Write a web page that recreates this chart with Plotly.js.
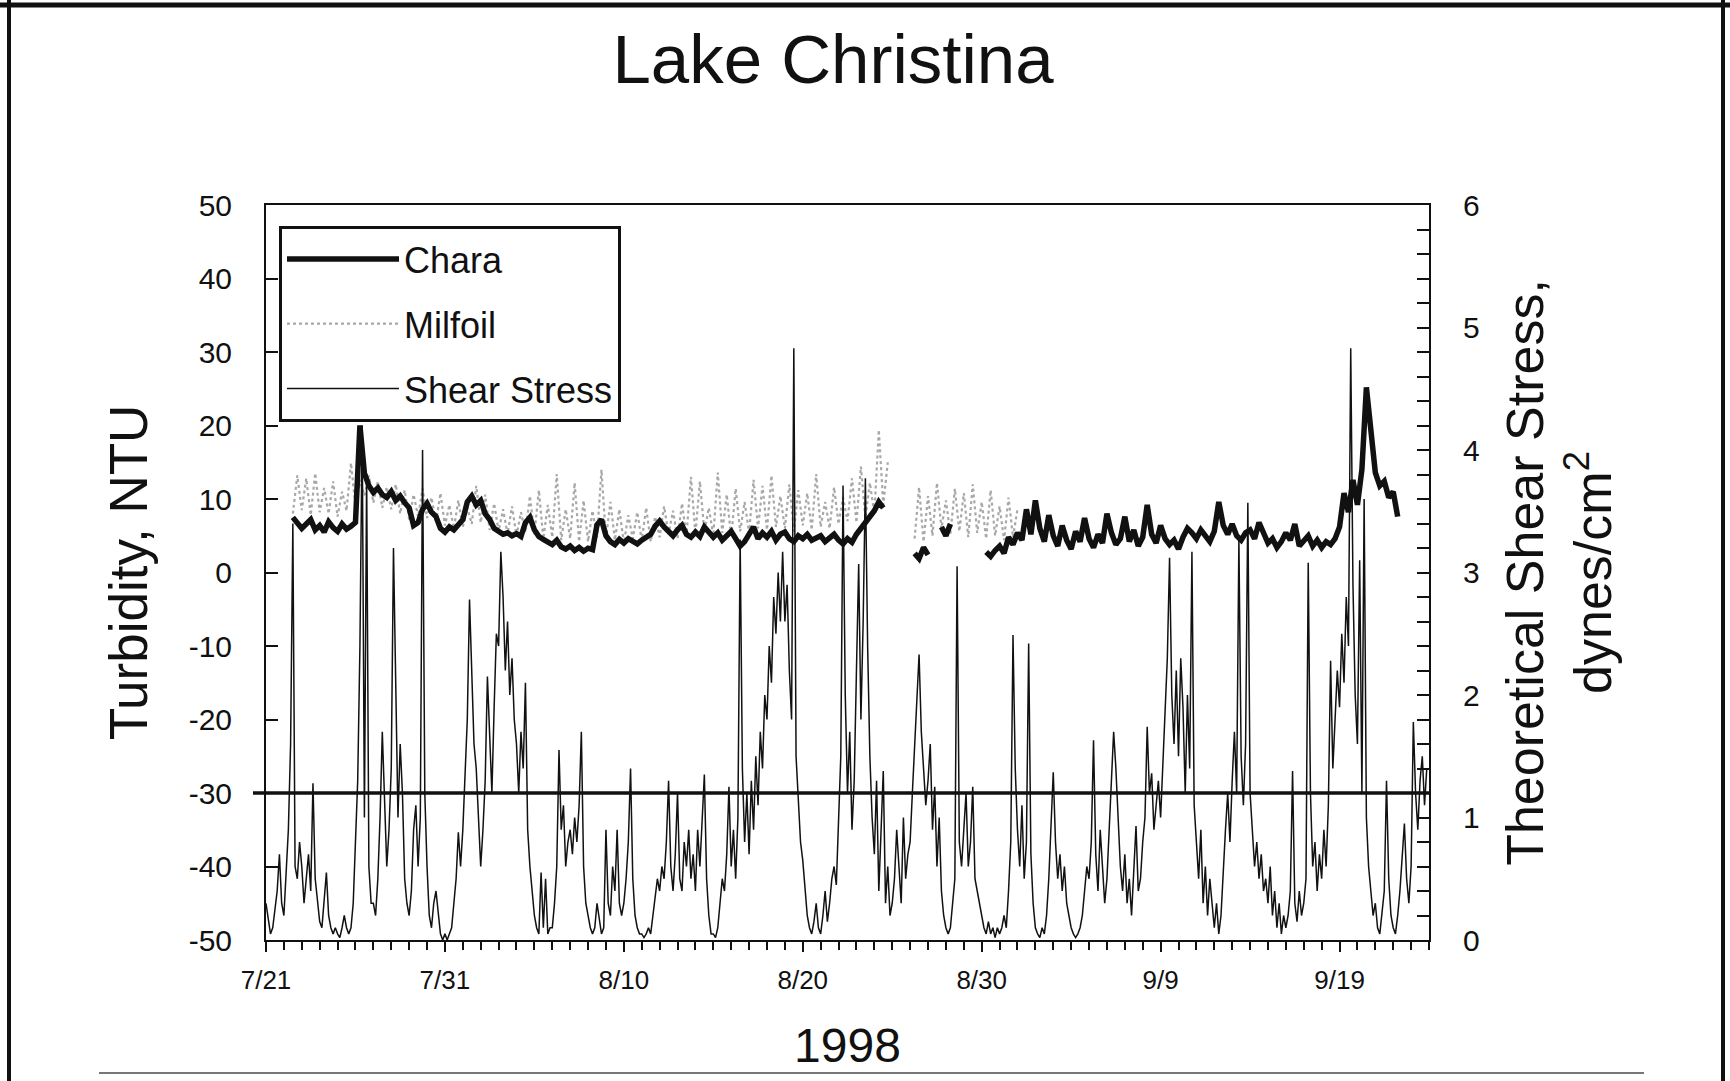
<!DOCTYPE html>
<html><head><meta charset="utf-8">
<script src="https://cdn.plot.ly/plotly-3.0.1.min.js"></script>
<style>html,body{margin:0;padding:0;background:#fff;} #chart{width:1730px;height:1081px;}</style>
</head><body><div id="chart"></div>
<script>
// ---- data ----
const seriesStart = [1998, 6, 21];          // 21 July 1998, 00:00
const shearStepHours = 3;
const turbidityStepHours = 6;
const xRange = ['1998-07-21', '1998-09-24'];
const thresholdNTU = -30;
const turbidityTicks = [-50, -40, -30, -20, -10, 0, 10, 20, 30, 40, 50];
const turbidityTickLabels = ['-50', '-40', '-30', '-20', '-10', '0', '10', '20', '30', '40', '50'];

// Theoretical shear stress, dynes/cm2, one value per 3 h (8 per day)
const shearStress = [
 0.3,0.15,0.05,0.1,0.25,0.4,0.7,0.3,
 0.2,0.5,0.9,1.6,3.4,0.6,0.5,0.8,
 0.6,0.3,0.5,0.7,0.4,1.28,0.5,0.3,
 0.15,0.1,0.34,0.55,0.2,0.1,0.05,0.1,
 0.05,0.02,0.1,0.2,0.1,0.05,0.1,0.3,
 0.8,1.3,2.4,4.2,1.0,3.8,0.6,0.3,
 0.3,0.2,0.5,1.0,1.7,1.2,0.6,0.9,
 1.4,3.2,2.0,1.0,1.6,1.2,0.5,0.3,
 0.2,0.4,0.9,1.1,0.6,1.0,4.0,1.2,
 0.6,0.2,0.1,0.3,0.4,0.2,0.05,0.0,
 0.05,0.0,0.05,0.1,0.3,0.5,0.88,0.6,
 0.9,1.4,1.8,2.78,2.1,1.6,1.4,1.0,
 0.6,0.9,1.3,2.15,1.7,1.2,1.9,2.5,
 2.4,3.17,2.8,2.2,2.6,2.0,2.3,1.8,
 1.6,1.2,1.7,1.4,2.1,0.9,0.6,0.4,
 0.2,0.1,0.05,0.55,0.1,0.5,0.05,0.1,
 0.1,0.3,0.6,1.55,0.9,1.1,0.6,0.8,
 0.9,0.7,1.0,0.8,1.1,1.7,0.6,0.3,
 0.2,0.1,0.05,0.1,0.3,0.15,0.05,0.1,
 0.9,0.3,0.2,0.6,0.4,0.9,0.3,0.2,
 0.3,0.5,0.8,1.4,0.5,0.2,0.1,0.05,
 0.05,0.02,0.05,0.1,0.05,0.2,0.35,0.5,
 0.4,0.6,0.5,0.8,1.3,0.6,0.4,0.7,
 1.2,0.5,0.4,0.8,0.6,0.9,0.5,0.7,
 0.4,0.9,0.6,1.0,1.35,0.5,0.2,0.05,
 0.05,0.02,0.1,0.3,0.5,0.4,0.7,1.25,
 0.6,0.9,0.5,1.0,3.27,1.4,0.8,1.2,
 0.7,1.3,0.9,1.5,1.1,1.7,1.4,2.0,
 1.8,2.4,2.1,2.8,2.5,3.0,2.6,3.17,
 2.6,2.9,2.2,1.8,4.83,1.5,1.1,0.8,
 0.65,0.4,0.2,0.1,0.05,0.15,0.3,0.1,
 0.05,0.2,0.4,0.15,0.3,0.5,0.6,0.45,
 0.9,1.5,3.71,2.0,1.2,1.7,0.9,1.3,
 2.2,3.07,1.8,2.6,3.77,2.4,1.5,1.0,
 0.7,1.3,0.4,0.9,1.38,0.3,0.6,0.2,
 0.3,0.5,0.9,0.6,0.3,1.0,0.5,0.7,
 0.8,1.2,1.6,2.0,2.33,1.7,1.4,1.1,
 1.3,1.6,0.9,1.25,0.6,1.0,0.4,0.2,
 0.1,0.05,0.1,0.3,0.5,3.05,0.8,0.6,
 0.9,1.2,0.6,0.8,1.25,0.5,0.4,0.3,
 0.2,0.1,0.05,0.15,0.05,0.1,0.02,0.1,
 0.05,0.1,0.2,0.1,0.4,0.8,2.49,1.4,
 0.9,0.6,1.1,0.5,0.8,2.42,0.7,0.3,
 0.1,0.05,0.02,0.1,0.05,0.2,0.5,0.9,
 1.37,0.8,0.5,0.7,0.4,0.6,0.3,0.2,
 0.1,0.05,0.02,0.05,0.1,0.2,0.4,0.6,
 0.5,0.8,1.63,0.7,0.4,0.9,0.6,0.3,
 0.5,0.9,1.2,1.7,1.4,1.0,0.6,0.4,
 0.7,0.3,0.5,0.2,0.6,0.93,0.4,0.5,
 0.8,1.0,1.74,1.2,1.36,0.9,1.1,1.3,
 1.0,1.4,1.8,2.3,3.12,2.0,1.6,2.2,
 1.5,2.3,1.9,1.2,2.0,1.4,3.17,1.1,
 0.8,0.5,0.9,0.3,0.6,0.2,0.5,0.3,
 0.1,0.3,0.05,0.2,0.6,0.9,1.2,0.8,
 1.3,1.7,1.2,3.27,1.5,1.1,1.6,3.57,
 1.2,0.9,0.6,0.8,0.5,0.7,0.4,0.5,
 0.3,0.6,0.2,0.4,0.1,0.3,0.05,0.2,
 0.1,0.2,0.4,1.38,0.3,0.15,0.4,0.2,
 0.3,0.5,3.08,1.2,0.6,0.8,0.4,0.7,
 0.5,0.9,0.6,1.1,2.28,1.4,1.8,2.2,
 1.9,2.5,2.1,2.8,2.4,4.83,2.9,2.0,
 1.6,3.1,1.2,3.6,1.0,0.6,0.4,0.2,
 0.3,0.1,0.05,0.2,0.4,1.3,0.5,0.2,
 0.1,0.05,0.2,0.4,0.7,0.95,0.5,0.3,
 0.6,1.78,1.2,0.9,1.3,1.5,1.1,1.4
];

// Turbidity at the Chara site, NTU, one value per 6 h (4 per day); null = no data
const charaTurbidity = [
 null,null,null,null,
 null,null,7.5,6.8,
 6.0,6.6,7.2,5.8,
 6.4,5.5,6.9,6.1,
 5.6,6.6,5.9,6.3,
 6.8,20.0,13.5,11.8,
 10.9,11.5,10.6,10.2,
 11.0,9.8,10.4,9.5,
 8.8,6.4,6.8,8.6,
 9.4,8.2,7.6,6.0,
 5.5,6.2,5.8,6.5,
 7.2,9.6,10.4,9.2,
 9.8,8.0,7.2,6.0,
 5.6,5.2,5.4,5.0,
 5.3,4.9,6.8,7.5,
 5.8,4.9,4.5,4.2,
 3.8,4.4,3.5,3.2,
 3.6,3.0,3.4,2.9,
 3.3,3.1,6.5,7.2,
 5.0,4.2,3.8,4.5,
 4.0,4.6,4.2,3.9,
 4.4,4.8,5.2,6.3,
 7.0,6.2,5.5,5.0,
 5.8,6.4,5.2,4.8,
 5.5,4.9,6.2,5.6,
 4.8,5.4,4.4,5.0,
 5.6,4.6,3.6,4.2,
 5.2,6.2,4.6,5.4,
 4.8,5.6,4.4,5.2,
 5.5,4.6,4.2,5.0,
 4.6,5.2,4.4,4.8,
 5.0,4.2,4.6,5.2,
 4.4,3.9,4.6,4.1,
 5.2,6.0,6.8,7.6,
 8.4,9.6,8.8,null,
 null,null,null,null,
 null,2.6,1.9,3.4,
 2.4,null,null,6.2,
 5.0,6.6,null,null,
 null,null,null,null,
 null,2.8,2.2,3.0,
 3.6,2.6,4.8,3.8,
 5.4,4.4,8.6,5.2,
 9.8,6.0,4.2,7.8,
 5.0,3.6,6.4,4.4,
 3.2,5.6,4.2,7.4,
 4.6,3.4,5.2,4.0,
 8.0,5.4,3.8,4.6,
 7.6,4.2,5.8,3.6,
 4.8,9.2,5.2,4.0,
 6.4,4.6,3.8,4.4,
 3.2,4.8,6.0,5.4,
 4.6,5.8,5.0,4.2,
 5.6,9.6,6.4,5.2,
 6.6,5.0,4.4,5.4,
 5.8,4.6,6.8,5.2,
 4.0,4.6,3.4,4.2,
 5.4,4.4,6.6,3.6,
 4.2,5.0,3.6,4.4,
 3.4,4.2,3.8,4.6,
 6.2,10.8,8.2,12.6,
 9.2,14.0,25.2,19.0,
 13.6,11.8,12.4,10.2,
 11.0,7.6,null,null,
 null,null,null,null
];

// Turbidity at the Milfoil site, NTU, one value per 6 h (4 per day); null = no data
const milfoilTurbidity = [
 null,null,null,null,
 null,null,8.0,13.2,
 8.5,12.8,7.8,13.5,
 8.2,11.5,8.0,12.4,
 7.6,11.0,8.4,14.9,
 9.0,12.6,10.5,13.2,
 9.5,12.4,8.8,11.6,
 8.6,12.0,8.0,11.2,
 7.2,10.6,7.6,11.4,
 7.4,10.2,6.8,10.8,
 6.4,9.2,6.0,9.8,
 6.2,8.8,6.6,11.8,
 6.8,10.6,5.8,9.4,
 5.6,8.6,5.2,9.0,
 5.0,8.2,5.4,10.4,
 5.2,11.2,4.6,9.2,
 4.8,13.4,4.4,8.6,
 4.6,12.2,4.2,9.8,
 4.2,8.4,4.8,14.0,
 4.6,9.6,4.4,8.6,
 4.0,7.8,4.6,8.2,
 4.4,8.8,4.2,7.6,
 4.8,9.0,5.2,8.4,
 4.6,9.4,5.0,13.0,
 5.2,12.4,5.6,8.8,
 5.0,13.6,5.4,10.6,
 4.8,11.4,5.6,9.6,
 5.4,12.6,6.0,11.8,
 5.8,13.2,6.2,10.4,
 6.0,12.0,5.6,11.2,
 6.4,10.8,5.8,13.4,
 6.2,9.6,6.0,11.6,
 6.6,10.2,7.0,12.8,
 6.8,14.4,7.4,12.2,
 8.0,19.4,9.2,15.0,
 null,null,null,null,
 null,4.6,11.6,4.2,
 10.4,5.0,12.2,6.0,
 9.8,5.2,11.4,5.6,
 10.8,4.8,12.0,5.4,
 9.6,4.6,11.2,5.0,
 9.0,4.4,10.2,4.8,
 8.6,null,null,null
];

// ---- helpers ----
function stamp(hours) {
  const t = Date.UTC(seriesStart[0], seriesStart[1], seriesStart[2]) + hours * 3600000;
  return new Date(t).toISOString().slice(0, 16).replace('T', ' ');
}
const shearX = shearStress.map((_, i) => stamp(i * shearStepHours));
const turbX = charaTurbidity.map((_, i) => stamp(i * turbidityStepHours));
const milX = milfoilTurbidity.map((_, i) => stamp(i * turbidityStepHours));

// plot-area geometry (px) for decorative page frame
const L = 266, T = 205, W = 1163, H = 735;
const px = x => (x - L) / W;
const py = y => (T + H - y) / H;
const ink = '#111';

const traces = [
  {x: milX, y: milfoilTurbidity, name: 'Milfoil', type: 'scatter', mode: 'lines',
   line: {color: '#a8a8a8', width: 2.2, dash: 'dot'}, legendgroup: 'm', legendrank: 2, connectgaps: false},
  {x: turbX, y: charaTurbidity, name: 'Chara', type: 'scatter', mode: 'lines',
   line: {color: ink, width: 5.5}, legendgroup: 'c', legendrank: 1, connectgaps: false},
  {x: shearX, y: shearStress, name: 'Shear Stress', type: 'scatter', mode: 'lines', yaxis: 'y2',
   line: {color: ink, width: 1.5}, legendgroup: 's', legendrank: 3}
];

const layout = {
  width: 1730, height: 1081,
  margin: {l: L, r: 1730 - L - W, t: T, b: 1081 - T - H, pad: 0},
  paper_bgcolor: '#fff', plot_bgcolor: '#fff',
  font: {family: '"Liberation Sans", Arial, Helvetica, sans-serif', color: ink, size: 26},
  title: {text: 'Lake Christina', font: {size: 69, color: ink}, x: 0.4815, xanchor: 'center', xref: 'container',
          y: 0.946, yanchor: 'middle', yref: 'container'},
  showlegend: true,
  legend: {x: px(279), y: py(226), xanchor: 'left', yanchor: 'top', bgcolor: '#fff',
           bordercolor: ink, borderwidth: 3, font: {size: 36, color: ink}, itemwidth: 112,
           traceorder: 'grouped', tracegroupgap: 15},
  xaxis: {type: 'date', range: xRange, tick0: xRange[0], dtick: 10 * 86400000, tickformat: '%-m/%-d',
          ticks: 'outside', ticklen: 10, tickwidth: 2, tickcolor: ink,
          minor: {dtick: 86400000, ticks: 'outside', ticklen: 8, tickwidth: 2, tickcolor: ink, showgrid: false},
          showline: true, linewidth: 2, linecolor: ink, mirror: true, showgrid: false, zeroline: false,
          tickfont: {size: 26}, ticklabelstandoff: 6,
          title: {text: '1998', font: {size: 48}, standoff: 34}},
  yaxis: {range: [-50, 50], tickmode: 'array', tickvals: turbidityTicks, ticktext: turbidityTickLabels,
          ticks: 'inside', ticklen: 12, tickwidth: 2, tickcolor: ink,
          showline: true, linewidth: 2, linecolor: ink, showgrid: false, zeroline: false,
          tickfont: {size: 30}, ticklabelstandoff: 26,
          title: {text: 'Turbidity, NTU', font: {size: 53}, standoff: 24}},
  yaxis2: {overlaying: 'y', side: 'right', range: [0, 6], dtick: 1, ticks: 'inside', ticklen: 12, tickwidth: 2,
           tickcolor: ink, minor: {dtick: 0.2, ticks: 'inside', ticklen: 12, tickwidth: 2, tickcolor: ink, showgrid: false},
           showline: true, linewidth: 2, linecolor: ink, showgrid: false, zeroline: false,
           tickfont: {size: 30}, ticklabelstandoff: 26,
           title: {text: 'Theoretical Shear Stress,<br>dynes/cm<sup>2</sup>', font: {size: 52}, standoff: 28}},
  shapes: [
    {type: 'line', xref: 'paper', yref: 'y', x0: px(253), x1: 1, y0: thresholdNTU, y1: thresholdNTU,
     line: {color: ink, width: 3.5}, layer: 'above'},
    // page frame
    {type: 'line', xref: 'paper', yref: 'paper', x0: px(0), x1: px(1730), y0: py(5), y1: py(5), line: {color: ink, width: 5}},
    {type: 'line', xref: 'paper', yref: 'paper', x0: px(9), x1: px(9), y0: py(0), y1: py(1081), line: {color: ink, width: 4}},
    {type: 'line', xref: 'paper', yref: 'paper', x0: px(1723), x1: px(1723), y0: py(0), y1: py(1081), line: {color: ink, width: 4}},
    {type: 'line', xref: 'paper', yref: 'paper', x0: px(99), x1: px(1644), y0: py(1073), y1: py(1073), line: {color: '#777', width: 2}}
  ]
};

Plotly.newPlot('chart', traces, layout, {displayModeBar: false, staticPlot: true});
</script>
</body></html>
